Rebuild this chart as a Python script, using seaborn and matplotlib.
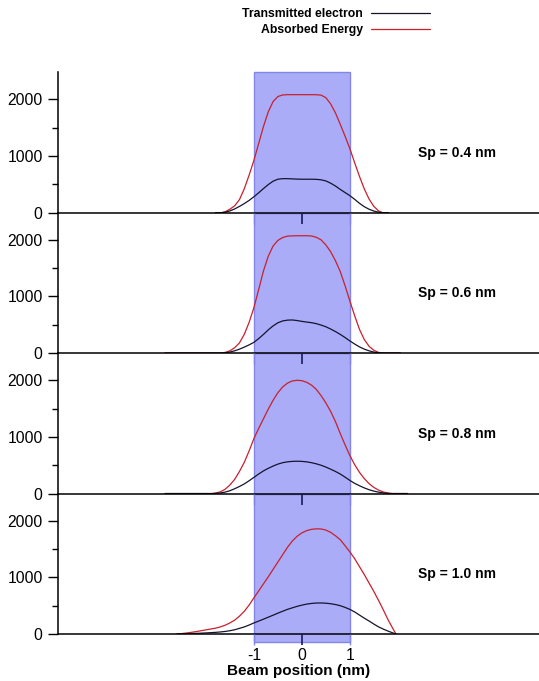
import numpy as np
import pandas as pd
import matplotlib
matplotlib.use("Agg")
import matplotlib.pyplot as plt
from matplotlib.lines import Line2D
import seaborn as sns

# ---------------- data ----------------
panel_labels = ["Sp = 0.4 nm", "Sp = 0.6 nm", "Sp = 0.8 nm", "Sp = 1.0 nm"]
series_names = ["Transmitted electron", "Absorbed Energy"]

x_sp04 = [-1.8, -1.67, -1.6, -1.5, -1.4, -1.3, -1.2, -1.1, -1.0, -0.9, -0.8, -0.7, -0.6, -0.5, -0.4, -0.3,
          -0.2, -0.1, 0.0, 0.1, 0.2, 0.3, 0.4, 0.5, 0.6, 0.7, 0.8, 0.9, 1.0, 1.1, 1.2, 1.3, 1.4, 1.5, 1.6, 1.68, 1.8]
red_sp04 = [0, 0, 15, 60, 120, 230, 420, 660, 920, 1220, 1520, 1780, 1960, 2050, 2078, 2083,
            2083, 2083, 2083, 2083, 2083, 2082, 2075, 2030, 1920, 1760, 1560, 1350, 1130, 880, 640, 420, 240, 110, 30, 0, 0]
blk_sp04 = [0, 0, 8, 30, 65, 110, 160, 215, 280, 350, 425, 495, 555, 590, 600, 600,
            596, 592, 590, 590, 590, 588, 580, 560, 520, 470, 410, 355, 300, 235, 165, 105, 60, 28, 8, 0, 0]

x_sp06 = [-2.85, -1.7, -1.6, -1.5, -1.4, -1.3, -1.2, -1.1, -1.0, -0.9, -0.8, -0.7, -0.6, -0.5, -0.4, -0.3,
          -0.2, -0.1, 0.0, 0.1, 0.2, 0.3, 0.4, 0.5, 0.6, 0.7, 0.8, 0.9, 1.0, 1.1, 1.2, 1.3, 1.4, 1.5, 1.6, 1.68, 2.05]
red_sp06 = [0, 0, 12, 40, 95, 180, 330, 540, 800, 1120, 1450, 1710, 1890, 1990, 2040, 2065,
            2070, 2072, 2072, 2072, 2068, 2045, 2000, 1910, 1790, 1630, 1440, 1190, 920, 660, 420, 240, 120, 50, 12, 0, 0]
blk_sp06 = [0, 0, 5, 18, 40, 70, 105, 145, 190, 255, 330, 410, 480, 535, 568, 582,
            585, 575, 560, 548, 537, 520, 495, 465, 425, 380, 330, 275, 215, 160, 110, 70, 40, 18, 5, 0, 0]

x_sp08 = [-2.85, -1.87, -1.8, -1.7, -1.6, -1.5, -1.4, -1.3, -1.2, -1.1, -1.0, -0.9, -0.8, -0.7, -0.6, -0.5, -0.4,
          -0.3, -0.2, -0.1, 0.0, 0.1, 0.2, 0.3, 0.4, 0.5, 0.6, 0.7, 0.8, 0.9, 1.0, 1.1, 1.2, 1.3, 1.4, 1.5, 1.6,
          1.7, 1.8, 1.88, 2.2]
red_sp08 = [0, 0, 8, 30, 75, 150, 250, 390, 550, 750, 968, 1150, 1320, 1490, 1646, 1780, 1882,
            1950, 1988, 2000, 1993, 1965, 1915, 1840, 1730, 1600, 1450, 1270, 1060, 860, 672, 510, 375, 265, 175, 108, 60,
            27, 8, 0, 0]
blk_sp08 = [0, 0, 3, 10, 25, 50, 85, 125, 170, 225, 285, 345, 400, 445, 485, 520, 545,
            560, 568, 571, 568, 560, 545, 525, 500, 468, 430, 390, 345, 290, 232, 180, 138, 100, 68, 43, 24,
            11, 3, 0, 0]

x_sp10 = [-2.6, -2.5, -2.4, -2.3, -2.2, -2.1, -2.0, -1.9, -1.8, -1.7, -1.6, -1.5, -1.4, -1.3, -1.2, -1.1, -1.0,
          -0.9, -0.8, -0.7, -0.6, -0.5, -0.4, -0.3, -0.2, -0.1, 0.0, 0.1, 0.2, 0.3, 0.4, 0.5, 0.6, 0.7, 0.8, 0.9,
          1.0, 1.1, 1.2, 1.3, 1.4, 1.5, 1.6, 1.7, 1.8, 1.9, 1.96]
red_sp10 = [0, 8, 18, 30, 43, 58, 73, 88, 103, 125, 155, 195, 245, 315, 400, 510, 637,
            760, 885, 1010, 1140, 1270, 1400, 1530, 1640, 1725, 1785, 1825, 1848, 1857, 1855, 1835, 1795, 1735, 1665, 1560,
            1450, 1330, 1190, 1050, 900, 750, 590, 420, 245, 90, 0]
blk_sp10 = [0, 2, 5, 8, 11, 15, 19, 24, 29, 36, 45, 58, 75, 100, 125, 158, 195,
            228, 262, 297, 332, 368, 402, 435, 462, 488, 510, 528, 540, 547, 548, 544, 535, 520, 500, 470,
            435, 390, 335, 280, 230, 175, 125, 85, 50, 18, 0]

panels = [
    (x_sp04, blk_sp04, red_sp04),
    (x_sp06, blk_sp06, red_sp06),
    (x_sp08, blk_sp08, red_sp08),
    (x_sp10, blk_sp10, red_sp10),
]

x_center_tick = [0]
x_edge_ticks = [-1, 1]
y_ticks = [0, 1000, 2000]
y_minor = [500, 1500]

# ---------------- style ----------------
sns.set_theme(style="ticks")
plt.rcParams["font.family"] = ["Liberation Sans", "DejaVu Sans"]
plt.rcParams["axes.unicode_minus"] = False
plt.rcParams["text.color"] = "black"
plt.rcParams["axes.labelcolor"] = "black"
plt.rcParams["xtick.labelcolor"] = "black"
plt.rcParams["ytick.labelcolor"] = "black"

palette = {"Transmitted electron": "#14142e", "Absorbed Energy": "#c8202c"}
band_face = "#aaacf8"
band_edge = "#8386e6"
tick_dark = "#1a1a5a"

fig = plt.figure(figsize=(5.39, 6.81), dpi=100)
gs = fig.add_gridspec(4, 1, left=0.1076, right=1.0, top=0.894, bottom=0.069, hspace=0)
axes = [fig.add_subplot(gs[i, 0]) for i in range(4)]

for i, (ax, (xs, blk, red), lab) in enumerate(zip(axes, panels, panel_labels)):
    df = pd.DataFrame({
        "x": list(xs) + list(xs),
        "y": list(blk) + list(red),
        "series": [series_names[0]] * len(xs) + [series_names[1]] * len(xs),
    })
    ax.set_zorder(10 - i)
    ax.set_facecolor("none")
    last = (i == 3)
    ax.axvspan(-1, 1, ymin=-0.057 if last else 0, ymax=1, facecolor=band_face,
               edgecolor=band_edge, linewidth=1.0, zorder=0.5, clip_on=False)
    sns.lineplot(data=df, x="x", y="y", hue="series", palette=palette,
                 hue_order=[series_names[1], series_names[0]],
                 estimator=None, sort=False, linewidth=0.9, legend=False, ax=ax)
    ax.set_xlim(-5.08, 4.94)
    ax.set_ylim(0, 2480)
    ax.set_xticks(x_center_tick)
    ax.set_xticks(x_edge_ticks, minor=True)
    if last:
        ax.set_xticklabels([str(v) for v in x_center_tick])
        ax.set_xticklabels([str(v) for v in x_edge_ticks], minor=True)
    ax.set_yticks(y_ticks)
    ax.set_yticks(y_minor, minor=True)
    ax.tick_params(axis="y", which="major", direction="out", length=7, width=1.0,
                   labelsize=11.3, pad=4, color="black", labelcolor="black")
    ax.tick_params(axis="y", which="minor", direction="out", length=4, width=1.0, color="black")
    ax.tick_params(axis="x", which="major", direction="out", length=8, width=1.2,
                   labelsize=11.3, pad=2, color=tick_dark, labelcolor="black", labelbottom=last)
    ax.tick_params(axis="x", which="minor", direction="out", length=8, width=1.0,
                   labelsize=11.3, pad=2, color=band_edge, labelcolor="black", labelbottom=last)
    ax.xaxis.set_zorder(5)
    ax.set_xlabel("Beam position (nm)" if last else "", fontsize=11, fontweight="bold",
                  labelpad=1, color="black")
    ax.set_ylabel("")
    for s in ["top", "right"]:
        ax.spines[s].set_visible(False)
    for s in ["left", "bottom"]:
        ax.spines[s].set_color("black")
        ax.spines[s].set_linewidth(1.1)
    ax.text(2.42, 1060, lab, fontsize=10, fontweight="bold", ha="left", va="center", color="black")

handles = [Line2D([], [], color=palette[n], linewidth=0.9) for n in series_names]
leg = fig.legend(handles, series_names, loc="upper left", bbox_to_anchor=(242 / 539, 1 - 8 / 681),
                 frameon=False, markerfirst=False, handlelength=4.8, handletextpad=0.7,
                 labelspacing=0.35, borderpad=0, borderaxespad=0,
                 prop={"size": 8.8, "weight": "bold"})
for t in leg.get_texts():
    t.set_color("black")

fig.savefig("out.png", dpi=100)
